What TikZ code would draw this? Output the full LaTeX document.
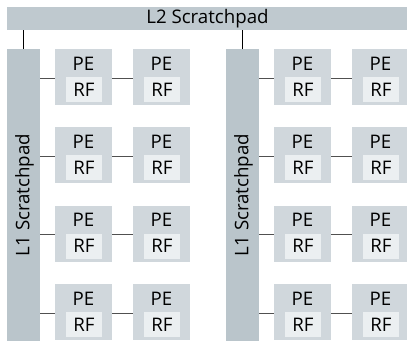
\documentclass[tikz,border=0pt]{standalone}
\usepackage{fontspec}
\setmainfont{Open Sans}
\usetikzlibrary{calc}
\definecolor{barfill}{HTML}{BFC9CF}
\definecolor{l1fill}{HTML}{BAC5CB}
\definecolor{pefill}{HTML}{D0D7DC}
\definecolor{rffill}{HTML}{EBEFF1}
\definecolor{wire}{HTML}{505050}
\begin{document}
\begin{tikzpicture}[x=1pt,y=-1pt,
  lbl/.style={font=\fontsize{18.7}{21}\selectfont, text=black},
  bar/.style={fill=barfill, draw=none, inner sep=0pt, outer sep=0pt},
  l1bar/.style={fill=l1fill, draw=none, inner sep=0pt, outer sep=0pt, minimum width=33pt, minimum height=292pt},
  pebox/.style={fill=pefill, draw=none, inner sep=0pt, outer sep=0pt, minimum width=57pt, minimum height=56pt},
  rfbox/.style={fill=rffill, draw=none, inner sep=0pt, outer sep=0pt, minimum width=36pt, minimum height=25pt},
  link/.style={draw=wire, line width=1pt}]
\useasboundingbox (0,0) rectangle (407,343);
% shared L2 scratchpad
\node[bar, minimum width=401pt, minimum height=22.5pt, anchor=north west] (l2) at (7,7) {};
\node[lbl] (l2t) at (207.5,18.5) {L2 Scratchpad};
% two clusters: L1 scratchpad plus a 4x2 array of PEs
\foreach \c/\lx/\ax/\bx in {0/7/55/133, 1/226/274/352} {
  \node[l1bar, anchor=north west] (l1\c) at (\lx,49) {};
  \node[lbl, rotate=90] (l1t\c) at ($(l1\c.center)+(1,0)$) {L1 Scratchpad};
  \coordinate (up\c) at ($(l1\c.north west)+(16,0)$);
  \draw[draw=black, line width=1pt] (up\c) -- (up\c |- l2.south);
  \foreach \r/\ty in {0/49, 1/127.3, 2/205.7, 3/284} {
    \node[pebox, anchor=north west] (pa\c\r) at (\ax,\ty) {};
    \node[pebox, anchor=north west] (pb\c\r) at (\bx,\ty) {};
    \foreach \p in {pa,pb} {
      \node[lbl] (\p pe\c\r) at ($(\p\c\r.north)+(0,14.5)$) {PE};
      \node[rfbox, anchor=north west] (\p rf\c\r) at ($(\p\c\r.north west)+(11,28)$) {};
      \node[lbl] at (\p rf\c\r.center) {RF};
    }
    \coordinate (row\c\r) at ($(pa\c\r.north west)+(0,29)$);
    \draw[link] (row\c\r -| l1\c.east) -- (row\c\r);
    \draw[link] (row\c\r -| pa\c\r.east) -- (row\c\r -| pb\c\r.west);
  }
}
\end{tikzpicture}
\end{document}
